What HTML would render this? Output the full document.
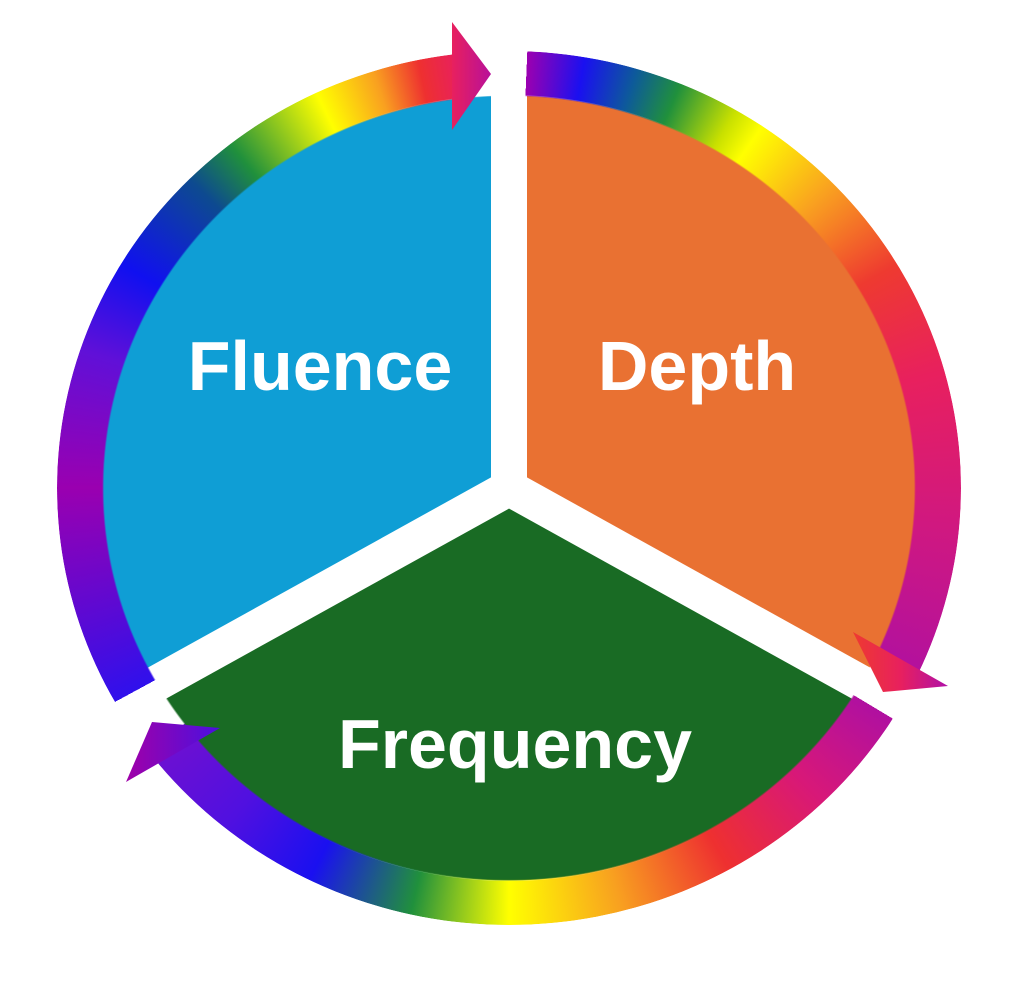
<!DOCTYPE html>
<html><head><style>
html,body{margin:0;padding:0;background:#fff;}
#w{position:relative;width:1023px;height:993px;overflow:hidden;background:#fff;}
#ring{position:absolute;left:57px;top:51px;width:904px;height:874px;border-radius:50%;
background:conic-gradient(from 0deg,
#fff 0deg,#fff 2.4deg,#9c00b0 2.4deg,#1a10f0 10deg,#0d5a9a 17deg,#20903c 23deg,#c8e000 31deg,#ffff00 35deg,#f9a020 47deg,#ee3a30 60deg,#e8205e 75deg,#d01880 95deg,#b010a0 116deg,
#fff 116deg,#fff 121deg,#b010a0 121deg,#d81878 135deg,#ee3030 150deg,#f8a020 165deg,#ffff00 180deg,#20903c 193deg,#1a10f0 207deg,#5010e0 220deg,#7010d0 234deg,
#fff 234deg,#fff 241.5deg,#3010ec 241.5deg,#9a00b0 270deg,#6010d8 288deg,#1010f0 300deg,#0d4a90 314deg,#20903c 321deg,#ffff00 334deg,#f9a020 342deg,#ee3030 348deg,#e8205e 353deg,#fff 353deg,#fff 360deg);
-webkit-mask:radial-gradient(closest-side,transparent 89.6%,#000 90%);
mask:radial-gradient(closest-side,transparent 89.6%,#000 90%);}
svg{position:absolute;left:0;top:0;}
</style></head><body><div id="w">
<svg width="1023" height="993">
<g transform="translate(509,488) scale(1,0.96)">
<path d="M0,0 L0,-409 A409,409 0 0 1 354.2,204.5 Z" fill="#e97132"/>
<path d="M0,0 L354.2,204.5 A409,409 0 0 1 -354.2,204.5 Z" fill="#196b24"/>
<path d="M0,0 L-354.2,204.5 A409,409 0 0 1 0,-409 Z" fill="#0f9ed5"/>
</g>
<g stroke="#fff" stroke-width="36">
<line x1="509" y1="488" x2="509" y2="60"/>
<line x1="509" y1="488" x2="150" y2="687"/>
<line x1="509" y1="488" x2="868" y2="687"/>
</g>
</svg>
<div id="ring"></div>
<svg width="1023" height="993">
<defs>
<linearGradient id="ga" x1="0" x2="1"><stop offset="0" stop-color="#e8205e"/><stop offset="1" stop-color="#b8109a"/></linearGradient>
<linearGradient id="gb" x1="0" x2="1"><stop offset="0" stop-color="#ee3a30"/><stop offset="0.5" stop-color="#e8205e"/><stop offset="1" stop-color="#b010a8"/></linearGradient>
<linearGradient id="gc" x1="0" x2="1"><stop offset="0" stop-color="#a000a8"/><stop offset="1" stop-color="#4a10e0"/></linearGradient>
</defs>
<polygon points="452,22 491,74 452,130" fill="url(#ga)"/>
<polygon points="853,632 948,686 883,692" fill="url(#gb)"/>
<polygon points="152,722 220,728 126,782" fill="url(#gc)"/>
<g fill="#fff" font-family="Liberation Sans, sans-serif" font-weight="bold" font-size="70" text-anchor="middle">
<text x="320" y="390">Fluence</text>
<text x="697" y="390">Depth</text>
<text x="515" y="768">Frequency</text>
</g>
</svg>
</div></body></html>
